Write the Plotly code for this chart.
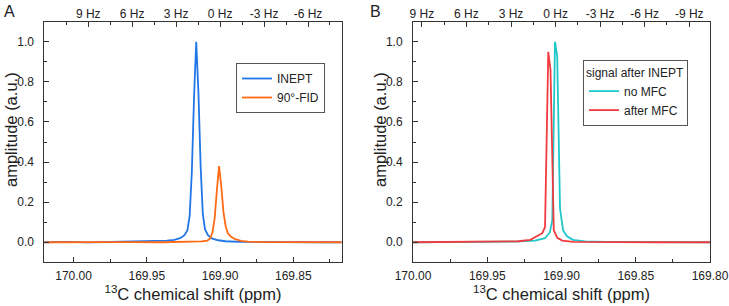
import plotly.graph_objects as go

# ---------------- data ----------------
# Panel A
a_inept_ppm = [170.020, 170.005, 169.990, 169.975, 169.960, 169.950, 169.9463, 169.9363,
               169.9313, 169.9273, 169.9243, 169.9223, 169.9208, 169.9193, 169.9178, 169.9163,
               169.9148, 169.9133, 169.9118, 169.9103, 169.9083, 169.9053, 169.9013, 169.8963,
               169.8863, 169.875, 169.860, 169.845, 169.830, 169.817]
a_inept_amp = [0.000, 0.002, -0.001, 0.001, 0.002, 0.003, 0.004, 0.008,
               0.012, 0.020, 0.035, 0.060, 0.13, 0.35, 0.72, 1.00,
               0.75, 0.38, 0.14, 0.065, 0.035, 0.018, 0.010, 0.005,
               0.002, 0.001, 0.000, -0.001, 0.000, 0.000]

a_fid_ppm = [170.020, 170.000, 169.980, 169.960, 169.940, 169.925, 169.9207, 169.9127,
             169.9087, 169.9067, 169.9052, 169.9037, 169.9022, 169.9007, 169.8992, 169.8977,
             169.8962, 169.8947, 169.8927, 169.8897, 169.8857, 169.8807, 169.870, 169.855,
             169.840, 169.825, 169.817]
a_fid_amp = [0.000, 0.001, 0.000, 0.001, 0.000, 0.001, 0.002, 0.004,
             0.008, 0.020, 0.050, 0.12, 0.26, 0.38, 0.28, 0.15,
             0.08, 0.045, 0.028, 0.015, 0.007, 0.003, 0.001, 0.000,
             0.001, 0.000, 0.000]

# Panel B
b_nomfc_ppm = [170.000, 169.985, 169.970, 169.955, 169.940, 169.9313, 169.9179, 169.9111,
               169.9078, 169.9062, 169.9053, 169.9044, 169.9029, 169.9020, 169.9010, 169.8990,
               169.8963, 169.8923, 169.8842, 169.870, 169.855, 169.840, 169.825, 169.810, 169.800]
b_nomfc_amp = [0.000, 0.001, 0.000, 0.001, 0.002, 0.003, 0.008, 0.020,
               0.050, 0.11, 0.55, 1.00, 0.93, 0.50, 0.17, 0.06,
               0.03, 0.012, 0.004, 0.002, 0.001, 0.000, 0.001, 0.000, 0.000]

b_mfc_ppm = [170.000, 169.985, 169.970, 169.955, 169.940, 169.9291, 169.9210, 169.9156,
             169.9129, 169.9111, 169.9100, 169.9089, 169.9074, 169.9059, 169.9052, 169.9028,
             169.8995, 169.8921, 169.880, 169.865, 169.850, 169.835, 169.820, 169.800]
b_mfc_amp = [0.000, 0.001, 0.000, 0.001, 0.002, 0.005, 0.012, 0.035,
             0.045, 0.075, 0.50, 0.95, 0.86, 0.35, 0.06, 0.022,
             0.008, 0.002, 0.001, 0.000, 0.001, 0.000, 0.000, 0.000]

hz_ticks_a = [9, 6, 3, 0, -3, -6]
hz_ticks_b = [9, 6, 3, 0, -3, -6, -9]

# spectrometer frequency (Hz per ppm) and Hz reference positions
HZ_PER_PPM = 100.0
REF_A = 169.900
REF_B = 169.904
RANGE_A = [170.020, 169.817]
RANGE_B = [170.000, 169.800]

BLUE = "#2176e8"
ORANGE = "#ff6a14"
CYAN = "#1fc7c9"
RED = "#f23b3f"

FONT = "Liberation Sans, Arial, sans-serif"

fig = go.Figure()

fig.add_trace(go.Scatter(x=a_inept_ppm, y=a_inept_amp, mode="lines", name="INEPT",
                         line=dict(color=BLUE, width=1.8), xaxis="x", yaxis="y", legend="legend"))
fig.add_trace(go.Scatter(x=a_fid_ppm, y=a_fid_amp, mode="lines", name="90°-FID",
                         line=dict(color=ORANGE, width=1.8), xaxis="x", yaxis="y", legend="legend"))
fig.add_trace(go.Scatter(x=b_nomfc_ppm, y=b_nomfc_amp, mode="lines", name="no MFC",
                         line=dict(color=CYAN, width=1.8), xaxis="x3", yaxis="y2", legend="legend2"))
fig.add_trace(go.Scatter(x=b_mfc_ppm, y=b_mfc_amp, mode="lines", name="after MFC",
                         line=dict(color=RED, width=1.8), xaxis="x3", yaxis="y2", legend="legend2"))

hzA = [(r - REF_A) * HZ_PER_PPM for r in RANGE_A]
hzB = [(r - REF_B) * HZ_PER_PPM for r in RANGE_B]
fig.add_trace(go.Scatter(x=hzA, y=[None, None], mode="lines", showlegend=False,
                         hoverinfo="skip", xaxis="x2", yaxis="y"))
fig.add_trace(go.Scatter(x=hzB, y=[None, None], mode="lines", showlegend=False,
                         hoverinfo="skip", xaxis="x4", yaxis="y2"))

W, H = 729, 306
domA = [44.3 / W, 341.7 / W]
domB = [413.0 / W, 710.0 / W]
ydom = [1 - 262.3 / H, 1 - 21.7 / H]

tickfont = dict(family=FONT, size=12, color="#222")
titlefont = dict(family=FONT, size=16.5, color="#222")

def bottom_axis(dom, rng, anchor, dtick_vals):
    return dict(domain=dom, range=rng, anchor=anchor, showline=True, linecolor="#333",
                linewidth=1, mirror=True, ticks="inside", ticklen=5, tickcolor="#333",
                tickvals=dtick_vals, tickformat=".2f", tickfont=tickfont, automargin=False,
                minor=dict(dtick=0.025, tick0=0, ticks="inside", ticklen=3, tickcolor="#333"),
                showgrid=False, zeroline=False, ticklabelstandoff=2,
                title=dict(text="<sup>13</sup>C chemical shift (ppm)", font=titlefont, standoff=4))

def top_axis(rng, over, anchor, vals):
    return dict(overlaying=over, anchor=anchor, side="top", range=rng, showline=False,
                ticks="inside", ticklen=5, tickcolor="#333", tickvals=vals, automargin=False,
                ticktext=[f"{v} Hz" for v in vals], tickfont=tickfont,
                minor=dict(tickvals=[v - 1.5 for v in vals] + [vals[0] + 1.5], ticks="inside",
                           ticklen=3, tickcolor="#333"),
                showgrid=False, zeroline=False)

def y_axis(anchor):
    return dict(domain=ydom, range=[-0.1, 1.1], anchor=anchor, showline=True, linecolor="#333",
                linewidth=1, mirror=True, ticks="inside", ticklen=5, tickcolor="#333",
                dtick=0.2, tick0=0, tickformat=".1f", tickfont=tickfont, automargin=False,
                minor=dict(dtick=0.1, ticks="inside", ticklen=3, tickcolor="#333"),
                showgrid=False, zeroline=False, ticklabelstandoff=7)

ytitle_y = 1 - 130 / H

fig.update_layout(
    width=W, height=H, margin=dict(l=0, r=0, t=0, b=0),
    paper_bgcolor="white", plot_bgcolor="white",
    font=dict(family=FONT, color="#222"),
    xaxis=bottom_axis(domA, RANGE_A, "y", [170.00, 169.95, 169.90, 169.85]),
    xaxis2=top_axis(hzA, "x", "y", hz_ticks_a),
    xaxis3=bottom_axis(domB, RANGE_B, "y2", [170.00, 169.95, 169.90, 169.85, 169.80]),
    xaxis4=top_axis(hzB, "x3", "y2", hz_ticks_b),
    yaxis=y_axis("x"),
    yaxis2=y_axis("x3"),
    legend=dict(x=236 / W, y=1 - 63 / H, xanchor="left", yanchor="top",
                bordercolor="#555", borderwidth=1, bgcolor="white",
                font=dict(family=FONT, size=12, color="#222"), itemwidth=30,
                tracegroupgap=0),
    legend2=dict(x=583 / W, y=1 - 60 / H, xanchor="left", yanchor="top",
                 bordercolor="#555", borderwidth=1, bgcolor="white",
                 font=dict(family=FONT, size=12, color="#222"), itemwidth=30,
                 title=dict(text="signal after INEPT", font=dict(family=FONT, size=12, color="#222"))),
    showlegend=True,
    annotations=[
        dict(text="A", x=2 / W, y=1 - 1 / H, xref="paper", yref="paper", xanchor="left",
             yanchor="top", showarrow=False, font=dict(family=FONT, size=16, color="#222")),
        dict(text="B", x=368 / W, y=1 - 1 / H, xref="paper", yref="paper", xanchor="left",
             yanchor="top", showarrow=False, font=dict(family=FONT, size=16, color="#222")),
        dict(text="amplitude (a.u.)", textangle=-90, x=11 / W, y=ytitle_y, xref="paper",
             yref="paper", xanchor="center", yanchor="middle", showarrow=False,
             font=dict(family=FONT, size=16.5, color="#222")),
        dict(text="amplitude (a.u.)", textangle=-90, x=380 / W, y=ytitle_y, xref="paper",
             yref="paper", xanchor="center", yanchor="middle", showarrow=False,
             font=dict(family=FONT, size=16.5, color="#222")),
    ],
)

fig.write_html("out.html")
